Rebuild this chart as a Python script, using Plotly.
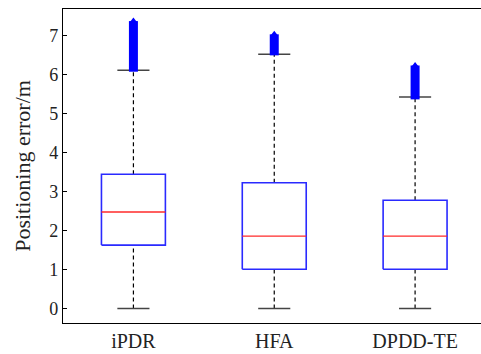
import plotly.graph_objects as go

categories = ["iPDR", "HFA", "DPDD-TE"]
lower_whisker = [0.0, 0.0, 0.0]
q1 = [1.63, 1.01, 1.01]
median = [2.48, 1.86, 1.86]
q3 = [3.45, 3.23, 2.78]
upper_whisker = [6.12, 6.53, 5.43]
outlier_low = [6.08, 6.50, 5.37]
outlier_high = [7.38, 7.04, 6.24]

y_ticks = [0, 1, 2, 3, 4, 5, 6, 7]

BOX_HALF = 0.227
CAP_HALF = 0.114
FONT = "Liberation Serif, Times New Roman, serif"

fig = go.Figure()
for i, name in enumerate(categories):
    c = i + 1
    # whiskers (dashed)
    fig.add_trace(go.Scatter(x=[c, c], y=[q3[i], upper_whisker[i]], mode="lines",
                             line=dict(color="black", width=1.2, dash="4px,3px"),
                             showlegend=False, hoverinfo="skip"))
    fig.add_trace(go.Scatter(x=[c, c], y=[lower_whisker[i], q1[i]], mode="lines",
                             line=dict(color="black", width=1.2, dash="4px,3px"),
                             showlegend=False, hoverinfo="skip"))
    # caps
    for v in (upper_whisker[i], lower_whisker[i]):
        fig.add_trace(go.Scatter(x=[c - CAP_HALF, c + CAP_HALF], y=[v, v], mode="lines",
                                 line=dict(color="#444444", width=1.5),
                                 showlegend=False, hoverinfo="skip"))
    # outliers (dense band)
    fig.add_trace(go.Scatter(x=[c, c], y=[outlier_low[i], outlier_high[i]], mode="lines",
                             line=dict(color="#0000ff", width=9),
                             showlegend=False, hoverinfo="skip"))
    fig.add_trace(go.Scatter(x=[c], y=[outlier_high[i]], mode="markers",
                             marker=dict(symbol="triangle-up", size=7, color="#0000ff"),
                             showlegend=False, hoverinfo="skip"))
    # box
    fig.add_trace(go.Scatter(x=[c - BOX_HALF, c + BOX_HALF, c + BOX_HALF, c - BOX_HALF, c - BOX_HALF],
                             y=[q1[i], q1[i], q3[i], q3[i], q1[i]], mode="lines",
                             line=dict(color="#2a2aff", width=1.6),
                             fill="toself", fillcolor="white",
                             showlegend=False, hoverinfo="skip"))
    # median
    fig.add_trace(go.Scatter(x=[c - BOX_HALF, c + BOX_HALF], y=[median[i], median[i]], mode="lines",
                             line=dict(color="#ff2a2a", width=1.4),
                             showlegend=False, hoverinfo="skip"))

fig.update_layout(
    width=481, height=354,
    margin=dict(l=63, r=0, t=9, b=31),
    paper_bgcolor="white", plot_bgcolor="white",
    font=dict(family=FONT, size=18, color="black"),
    xaxis=dict(range=[0.5, 3.468], tickmode="array", tickvals=[1, 2, 3], ticktext=categories,
               showgrid=False, zeroline=False, showline=True, linecolor="black", linewidth=1.3,
               mirror=True, ticks="", tickfont=dict(family=FONT, size=20, color="#222")),
    yaxis=dict(range=[-0.37, 7.69], tickmode="array", tickvals=y_ticks,
               ticktext=[str(t) for t in y_ticks],
               showgrid=False, zeroline=False, showline=True, linecolor="black", linewidth=1.3,
               ticks="inside", ticklen=4, tickcolor="black", tickwidth=1,
               tickfont=dict(family=FONT, size=18, color="#222"),
               title=dict(text="Positioning error/m", font=dict(family=FONT, size=22, color="#222"),
                          standoff=12)),
)

fig.write_html("out.html")
